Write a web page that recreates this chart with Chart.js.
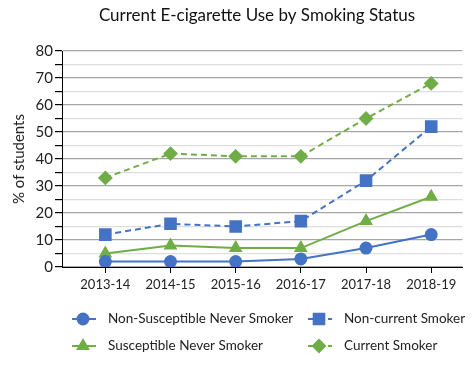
<!DOCTYPE html>
<html>
<head>
<meta charset="utf-8">
<script src="https://cdn.jsdelivr.net/npm/chart.js@4"></script>
<style>
  html, body { margin: 0; padding: 0; background: #fff; }
  #wrap { width: 472px; height: 366px; }
</style>
</head>
<body>
<div id="wrap"><canvas id="chart" width="472" height="366"></canvas></div>
<script>
// school years on the x axis
const years = ['2013-14', '2014-15', '2015-16', '2016-17', '2017-18', '2018-19']

// % of students
const nonSusceptibleNever = [2, 2, 2, 3, 7, 12]
const nonCurrent = [12, 16, 15, 17, 32, 52]
const susceptibleNever = [5, 8, 7, 7, 17, 26]
const currentSmoker = [33, 42, 41, 41, 55, 68]

const seriesNames = [
  'Non-Susceptible Never Smoker',
  'Non-current Smoker',
  'Susceptible Never Smoker',
  'Current Smoker',
]
const chartTitle = 'Current E-cigarette Use by Smoking Status'

const blue = '#4472C4'
const green = '#70AD47'
const font = 'Lato, "Open Sans", sans-serif'

const toPoints = (arr) => arr.map((v, i) => ({ x: i, y: v }))

// title sits a bit left of the canvas centre in the original
const offsetTitle = {
  id: 'offsetTitle',
  afterDraw(chart) {
    const ctx = chart.ctx
    ctx.save()
    ctx.fillStyle = '#111'
    ctx.font = '17px ' + font
    ctx.textAlign = 'center'
    ctx.textBaseline = 'middle'
    ctx.fillText(chartTitle, 257, 16)
    ctx.restore()
  },
}

// legend drawn in two columns below the axis
const gridLegend = {
  id: 'gridLegend',
  afterDraw(chart) {
    const ctx = chart.ctx
    const cols = [{ line: 72, text: 108 }, { line: 308, text: 344 }]
    const rows = [319, 346]
    chart.data.datasets.forEach((ds, i) => {
      const c = cols[i % 2]
      const y = rows[Math.floor(i / 2)]
      ctx.save()
      ctx.strokeStyle = ds.borderColor
      ctx.lineWidth = ds.borderWidth
      ctx.setLineDash(ds.borderDash || [])
      ctx.beginPath()
      ctx.moveTo(c.line, y)
      ctx.lineTo(c.line + 24, y)
      ctx.stroke()
      ctx.setLineDash([])
      ctx.fillStyle = ds.backgroundColor
      ctx.strokeStyle = ds.borderColor
      Chart.helpers.drawPoint(ctx, {
        pointStyle: ds.pointStyle,
        radius: ds.pointRadius,
        rotation: 0,
        borderWidth: 1,
      }, c.line + 11, y)
      ctx.fillStyle = '#222'
      ctx.font = '13.5px ' + font
      ctx.textBaseline = 'middle'
      ctx.textAlign = 'left'
      ctx.fillText(ds.label, c.text, y)
      ctx.restore()
    })
  },
}

const ctx = document.getElementById('chart').getContext('2d')

new Chart(ctx, {
  type: 'line',
  data: {
    datasets: [
      {
        label: seriesNames[0],
        data: toPoints(nonSusceptibleNever),
        borderColor: blue,
        backgroundColor: blue,
        borderWidth: 2,
        pointStyle: 'circle',
        pointRadius: 5.5,
      },
      {
        label: seriesNames[1],
        data: toPoints(nonCurrent),
        borderColor: blue,
        backgroundColor: blue,
        borderWidth: 2,
        borderDash: [6, 4],
        pointStyle: 'rect',
        pointRadius: 7.5,
      },
      {
        label: seriesNames[2],
        data: toPoints(susceptibleNever),
        borderColor: green,
        backgroundColor: green,
        borderWidth: 2,
        pointStyle: 'triangle',
        pointRadius: 6,
      },
      {
        label: seriesNames[3],
        data: toPoints(currentSmoker),
        borderColor: green,
        backgroundColor: green,
        borderWidth: 2,
        borderDash: [6, 4],
        pointStyle: 'rectRot',
        pointRadius: 6,
      },
    ],
  },
  options: {
    responsive: false,
    animation: false,
    layout: { padding: { left: 0, right: 1, top: 51, bottom: 66 } },
    plugins: {
      legend: { display: false },
      tooltip: { enabled: false },
      title: { display: false },
    },
    scales: {
      x: {
        type: 'linear',
        min: -0.665,
        max: 5.48,
        afterBuildTicks: (scale) => {
          scale.ticks = years.map((y, i) => ({ value: i }))
        },
        afterFit: (scale) => { scale.height = 33 },
        ticks: {
          callback: (v) => years[v],
          color: '#222',
          font: { family: font, size: 13 },
          padding: 4,
          maxRotation: 0,
        },
        grid: {
          drawOnChartArea: false,
          color: '#000',
          tickLength: 6,
        },
        border: { color: '#000', width: 1 },
      },
      y: {
        min: 0,
        max: 80,
        afterFit: (scale) => { scale.width = 62 },
        ticks: {
          stepSize: 5,
          autoSkip: false,
          callback: (v) => (v % 10 === 0 ? v : ''),
          color: '#222',
          font: { family: font, size: 15 },
          padding: 2,
        },
        grid: {
          color: (c) => (c.tick && c.tick.value % 10 === 0 ? '#a6a6a6' : '#dedede'),
          lineWidth: 1.2,
          tickColor: '#000',
          tickLength: 7,
        },
        border: { color: '#000', width: 1 },
        title: {
          display: true,
          text: '% of students',
          color: '#222',
          font: { family: font, size: 15 },
          padding: { top: 10, bottom: 2 },
        },
      },
    },
  },
  plugins: [offsetTitle, gridLegend],
})
</script>
</body>
</html>
